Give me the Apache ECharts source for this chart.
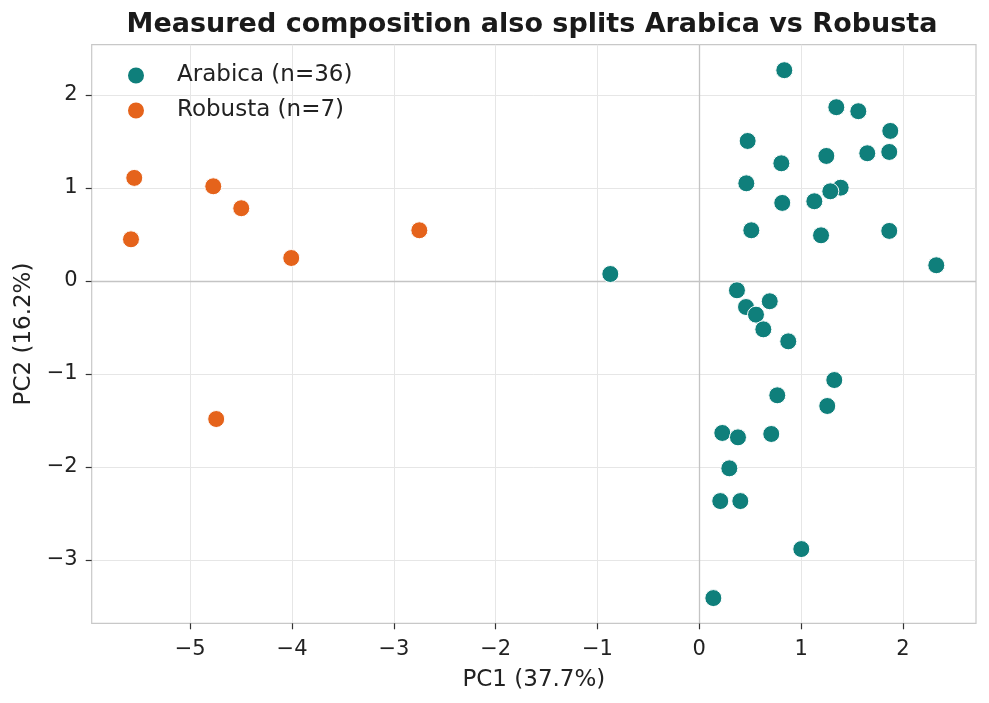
<!DOCTYPE html>
<html>
<head>
<meta charset="utf-8">
<script src="https://cdn.jsdelivr.net/npm/echarts@6/dist/echarts.min.js"></script>
<style>html,body{margin:0;padding:0;background:#fff}#c{width:989px;height:703px}</style>
</head>
<body>
<div id="c"></div>
<script>
const arabicaPC1 = [0.835,1.346,1.562,1.876,0.475,0.806,1.248,1.650,1.866,0.462,1.389,1.287,0.815,1.130,0.511,1.196,1.866,2.328,-0.874,
  0.370,0.692,0.459,0.557,0.629,0.874,1.326,0.766,1.257,0.226,0.380,0.707,0.295,0.206,0.403,1.002,0.138];
const arabicaPC2 = [2.266,1.868,1.825,1.613,1.505,1.265,1.344,1.373,1.387,1.050,1.003,0.964,0.839,0.857,0.545,0.491,0.538,0.169,0.075,
  -0.100,-0.218,-0.280,-0.362,-0.520,-0.649,-1.065,-1.229,-1.344,-1.634,-1.681,-1.645,-2.014,-2.366,-2.366,-2.882,-3.409];
const robustaPC1 = [-5.550,-4.774,-4.499,-5.582,-4.008,-2.750,-4.745];
const robustaPC2 = [1.108,1.018,0.782,0.448,0.247,0.545,-1.484];
const xTicks = [-5,-4,-3,-2,-1,0,1,2];
const yTicks = [-3,-2,-1,0,1,2];
const xRange = [-5.968, 2.718];
const yRange = [-3.68, 2.54];
const seriesNames = ['Arabica (n=36)','Robusta (n=7)'];
const colors = ['#0f7f7b','#e5631b'];

const fmt = v => (v < 0 ? '\u2212' + Math.abs(v) : String(v));
const FONT = 'DejaVu Sans';
const zip = (a,b) => a.map((v,i)=>[v,b[i]]);

const chart = echarts.init(document.getElementById('c'), null, {renderer:'canvas'});
const axisCommon = {
  type:'value',
  axisLine:{show:false, onZero:false},
  axisTick:{show:true, length:6, lineStyle:{color:'#333', width:1.2}},
  splitLine:{show:true, lineStyle:{color:'#e6e6e6', width:1}},
  axisLabel:{color:'#222', fontSize:21, fontFamily:FONT, formatter:fmt},
  nameTextStyle:{color:'#222', fontSize:23, fontFamily:FONT}
};
chart.setOption({
  animation:false,
  backgroundColor:'#fff',
  title:{
    text:'Measured composition also splits Arabica vs Robusta',
    left:527, textAlign:'center', top:6,
    textStyle:{fontSize:27, fontWeight:'bold', fontFamily:FONT, color:'#1a1a1a'}
  },
  legend:{
    orient:'vertical', left:121, top:59,
    itemWidth:32, itemHeight:18, itemGap:12,
    textStyle:{fontSize:23, fontFamily:FONT, color:'#222', padding:[0,0,0,20]},
    data:seriesNames
  },
  grid:{left:91.7, right:13, top:44.7, bottom:79.7, show:true, borderColor:'#c8c8c8', borderWidth:1.2, backgroundColor:'transparent'},
  xAxis:Object.assign({}, axisCommon, {
    min:xRange[0], max:xRange[1],
    axisTick:Object.assign({}, axisCommon.axisTick, {customValues:xTicks}),
    axisLabel:Object.assign({}, axisCommon.axisLabel, {customValues:xTicks, margin:16}),
    name:'PC1 (37.7%)', nameLocation:'middle', nameGap:45
  }),
  yAxis:Object.assign({}, axisCommon, {
    min:yRange[0], max:yRange[1],
    axisTick:Object.assign({}, axisCommon.axisTick, {customValues:yTicks}),
    axisLabel:Object.assign({}, axisCommon.axisLabel, {customValues:yTicks, margin:14}),
    name:'PC2 (16.2%)', nameLocation:'middle', nameGap:56
  }),
  series:[
    {
      name:seriesNames[0], type:'scatter', symbolSize:17,
      itemStyle:{color:colors[0], borderColor:'#fff', borderWidth:1, opacity:1},
      data:zip(arabicaPC1, arabicaPC2), z:3,
      markLine:{
        silent:true, symbol:'none', label:{show:false},
        lineStyle:{color:'#c4c4c4', width:1.3, type:'solid'},
        data:[{xAxis:0},{yAxis:0}], z:1
      }
    },
    {
      name:seriesNames[1], type:'scatter', symbolSize:17,
      itemStyle:{color:colors[1], borderColor:'#fff', borderWidth:1, opacity:1},
      data:zip(robustaPC1, robustaPC2), z:3
    }
  ]
});
</script>
</body>
</html>
